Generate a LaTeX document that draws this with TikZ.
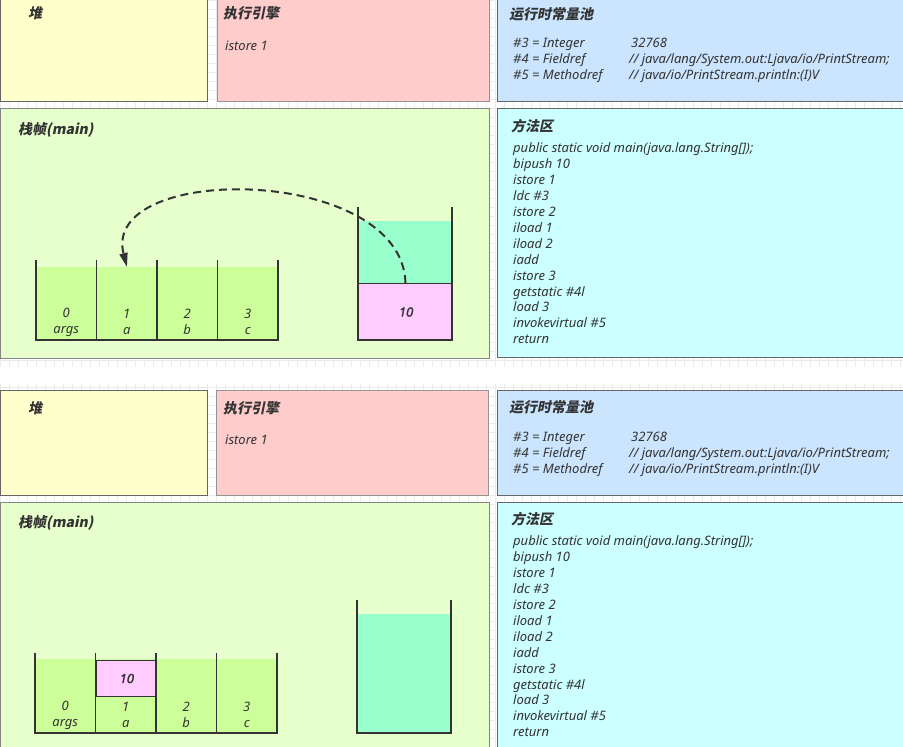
\documentclass[tikz,border=0pt]{standalone}
\usepackage{fontspec}
\setmainfont{Noto Sans}
\newfontfamily\cjk[FakeSlant=0.2]{Noto Sans CJK SC}
\newfontfamily\valfont[FakeSlant=0.2,FakeBold=2.5]{Noto Sans}
\usetikzlibrary{arrows.meta}
\definecolor{txt}{HTML}{333333}
\definecolor{edge}{HTML}{666666}
\definecolor{gridc}{HTML}{EBEBEB}
\definecolor{heapc}{HTML}{FFFFCC}
\definecolor{engc}{HTML}{FFCCCC}
\definecolor{poolc}{HTML}{CCE5FF}
\definecolor{framec}{HTML}{E6FFCC}
\definecolor{methc}{HTML}{CCFFFF}
\definecolor{slotc}{HTML}{CCFF99}
\definecolor{stackc}{HTML}{99FFCC}
\definecolor{valc}{HTML}{FFCCFF}
\begin{document}
\begin{tikzpicture}[x=1pt,y=-1pt,
    area/.style={draw=edge,line width=1.2pt,anchor=north west,inner sep=0pt},
    title/.style={anchor=west,inner sep=0pt,text=txt,font=\cjk\bfseries\fontsize{14}{16}\selectfont},
    code/.style={anchor=west,inner sep=0pt,align=left,text=txt,font=\itshape\fontsize{13}{15.9}\selectfont},
    slot/.style={fill=slotc,anchor=north west,inner sep=0pt,minimum width=60.5pt},
    idx/.style={align=center,inner sep=0pt,text=txt,font=\itshape\fontsize{13}{16}\selectfont},
    val/.style={draw=txt,line width=1pt,fill=valc,anchor=north west,inner sep=0pt,text=txt,font=\valfont\fontsize{12.5}{14}\selectfont},
    wall/.style={draw=txt,line width=1.6pt},
    flow/.style={draw=txt,line width=2pt,dash pattern=on 8pt off 5pt,-{Triangle[width=8pt,length=14pt]}}]
    \useasboundingbox (0,0) rectangle (903,747);
    % background grid
    \draw[gridc,line width=0.6pt] (0,0) grid[step=9pt] (903,747);
    \fill[white] (0,367) rectangle (903,383);

    % ---- first step: bipush 10 done, istore 1 running
    \node(heapT)[area,fill=heapc,minimum width=207pt,minimum height=104pt] at (0,-3){};
    \node(engT)[area,draw=edge!70,fill=engc,minimum width=272pt,minimum height=104pt] at (217,-3){};
    \node(poolT)[area,fill=poolc,minimum width=410pt,minimum height=104pt] at (497,-3){};
    \node(frameT)[area,draw=edge!80,fill=framec,minimum width=489pt,minimum height=250pt] at (0,108){};
    \node(methT)[area,fill=methc,minimum width=410pt,minimum height=249pt] at (497,108){};
    \node(heapLT)[title] at (28,13){堆};
    \node(engLT)[title] at (223,13){执行引擎};
    \node(insT)[code] at (225,46){istore 1};
    \node(poolLT)[title] at (509,14){运行时常量池};
    \node(poolKT)[code] at (513,60.5){\#3 = Integer\\\#4 = Fieldref\\\#5 = Methodref};
    \node(poolVT)[code] at (629,60.5){\hspace{2pt}32768\\// java/lang/System.out:Ljava/io/PrintStream;\\// java/io/PrintStream.println:(I)V};
    \node(frameLT)[title] at (18,130){栈帧(main)};
    \node(methLT)[title] at (511,126){方法区};
    \node(codeT)[code] at (513,243.5){public static void main(java.lang.String[]);\\bipush 10\\istore 1\\ldc \#3\\istore 2\\iload 1\\iload 2\\iadd\\istore 3\\getstatic \#4l\\load 3\\invokevirtual \#5\\return};
    % local variable table
    \node(s0T)[slot,minimum height=73pt] at (36,267){};
    \node(s1T)[slot,minimum height=73pt] at (96.5,267){};
    \node(s2T)[slot,minimum height=73pt] at (157,267){};
    \node(s3T)[slot,minimum height=73pt] at (217.5,267){};
    \node(n0T)[idx] at (66.25,322){0\\args};
    \node(n1T)[idx] at (126.75,322){1\\a};
    \node(n2T)[idx] at (187.25,322){2\\b};
    \node(n3T)[idx] at (247.75,322){3\\c};
    \draw[wall] (36,260) -- (36,340) -- (278,340) -- (278,260);
    \draw[wall] (96.5,260) -- (96.5,340);
    \draw[wall] (157,260) -- (157,340);
    \draw[wall] (217.5,260) -- (217.5,340);
    % operand stack
    \node(stkT)[fill=stackc,anchor=north west,inner sep=0pt,minimum width=94pt,minimum height=119pt] at (358,221){};
    \node(v10T)[val,minimum width=94pt,minimum height=57pt] at (358,283){10};
    \draw[wall] (358,207) -- (358,340) -- (452,340) -- (452,207);
    \draw[flow] (v10T.north) .. controls (402,165) and (100,162) .. (s1T.north);

    % ---- second step: 10 stored in slot 1
    \node(heapB)[area,fill=heapc,minimum width=207pt,minimum height=105pt] at (0,390){};
    \node(engB)[area,draw=edge!70,fill=engc,minimum width=272pt,minimum height=105pt] at (216,390){};
    \node(poolB)[area,fill=poolc,minimum width=410pt,minimum height=105pt] at (497,390){};
    \node(frameB)[area,draw=edge!80,fill=framec,minimum width=489pt,minimum height=250pt] at (0,502){};
    \node(methB)[area,fill=methc,minimum width=410pt,minimum height=250pt] at (497,502){};
    \node(heapLB)[title] at (28,408){堆};
    \node(engLB)[title] at (223,408){执行引擎};
    \node(insB)[code] at (225,440){istore 1};
    \node(poolLB)[title] at (509,407){运行时常量池};
    \node(poolKB)[code] at (513,454){\#3 = Integer\\\#4 = Fieldref\\\#5 = Methodref};
    \node(poolVB)[code] at (629,454){\hspace{2pt}32768\\// java/lang/System.out:Ljava/io/PrintStream;\\// java/io/PrintStream.println:(I)V};
    \node(frameLB)[title] at (18,523){栈帧(main)};
    \node(methLB)[title] at (511,519){方法区};
    \node(codeB)[code] at (513,636.5){public static void main(java.lang.String[]);\\bipush 10\\istore 1\\ldc \#3\\istore 2\\iload 1\\iload 2\\iadd\\istore 3\\getstatic \#4l\\load 3\\invokevirtual \#5\\return};
    % local variable table
    \node(s0B)[slot,minimum height=74pt] at (35,659){};
    \node(s1B)[slot,minimum height=74pt] at (95.5,659){};
    \node(s2B)[slot,minimum height=74pt] at (156,659){};
    \node(s3B)[slot,minimum height=74pt] at (216.5,659){};
    \node(v10B)[val,minimum width=60.5pt,minimum height=36pt] at (95.5,660){10};
    \node(n0B)[idx] at (65.25,715){0\\args};
    \node(n1B)[idx] at (125.75,715){1\\a};
    \node(n2B)[idx] at (186.25,715){2\\b};
    \node(n3B)[idx] at (246.75,715){3\\c};
    \draw[wall] (35,653) -- (35,733) -- (277,733) -- (277,653);
    \draw[wall] (95.5,653) -- (95.5,733);
    \draw[wall] (156,653) -- (156,733);
    \draw[wall] (216.5,653) -- (216.5,733);
    % operand stack
    \node(stkB)[fill=stackc,anchor=north west,inner sep=0pt,minimum width=94pt,minimum height=119pt] at (357,614){};
    \draw[wall] (357,600) -- (357,733) -- (451,733) -- (451,600);
\end{tikzpicture}
\end{document}
